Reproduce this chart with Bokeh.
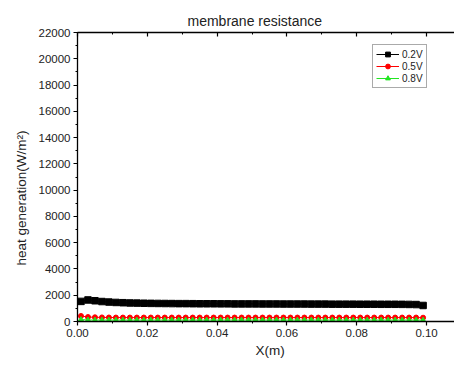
from bokeh.plotting import figure
from bokeh.models import (Legend, LegendItem, LinearAxis, SingleIntervalTicker,
                          NumeralTickFormatter, Range1d, Title)
from bokeh.embed import file_html
from bokeh.resources import INLINE

title_text = "membrane resistance"
x_label = "X(m)"
y_label = "heat generation(W/m\u00b2)"
series_names = ["0.2V", "0.5V", "0.8V"]

x_pos = [0.001, 0.003, 0.005, 0.007, 0.009, 0.011, 0.013, 0.015, 0.017, 0.019,
         0.021, 0.023, 0.025, 0.027, 0.029, 0.031, 0.033, 0.035, 0.037, 0.039,
         0.041, 0.043, 0.045, 0.047, 0.049, 0.051, 0.053, 0.055, 0.057, 0.059,
         0.061, 0.063, 0.065, 0.067, 0.069, 0.071, 0.073, 0.075, 0.077, 0.079,
         0.081, 0.083, 0.085, 0.087, 0.089, 0.091, 0.093, 0.095, 0.097, 0.099]

v02 = [1530, 1640, 1580, 1520, 1480, 1450, 1430, 1410, 1400, 1390,
       1380, 1375, 1370, 1365, 1360, 1360, 1355, 1350, 1350, 1350,
       1345, 1345, 1340, 1340, 1340, 1340, 1335, 1335, 1335, 1330,
       1330, 1330, 1330, 1325, 1325, 1325, 1320, 1320, 1320, 1320,
       1315, 1315, 1315, 1310, 1310, 1310, 1305, 1300, 1290, 1220]

v05 = [420, 340, 320, 310, 305, 300, 300, 300, 300, 300,
       300, 300, 300, 300, 300, 300, 300, 300, 300, 300,
       300, 300, 300, 300, 300, 300, 300, 300, 300, 300,
       300, 300, 300, 300, 300, 300, 300, 300, 300, 300,
       300, 300, 300, 300, 300, 300, 300, 300, 300, 290]

v08 = [150, 120, 110, 110, 110, 110, 110, 110, 110, 110,
       110, 110, 110, 110, 110, 110, 110, 110, 110, 110,
       110, 110, 110, 110, 110, 110, 110, 110, 110, 110,
       110, 110, 110, 110, 110, 110, 110, 110, 110, 110,
       110, 110, 110, 110, 110, 110, 110, 110, 110, 105]

FONT = "Liberation Sans"
TXT = "#222222"
GREEN = "#22e622"

p = figure(width=454, height=367, output_backend="svg", toolbar_location=None,
           x_range=Range1d(0, 0.108), y_range=Range1d(0, 22000),
           x_axis_location=None, y_axis_location=None,
           min_border_left=77, min_border_right=0, min_border_top=32, min_border_bottom=46)
p.outline_line_color = None
p.xgrid.visible = False
p.ygrid.visible = False
p.background_fill_color = "white"
p.border_fill_color = "white"

# axes
xb = LinearAxis(ticker=SingleIntervalTicker(interval=0.02, num_minor_ticks=2),
                formatter=NumeralTickFormatter(format="0.00"))
yl = LinearAxis(ticker=SingleIntervalTicker(interval=2000, num_minor_ticks=2))
xt = LinearAxis(ticker=SingleIntervalTicker(interval=0.02, num_minor_ticks=2),
                formatter=NumeralTickFormatter(format="0.00"))
for ax in (xb, yl, xt):
    ax.axis_line_color = "black"
    ax.axis_line_width = 1.3
    ax.major_tick_line_color = "black"
    ax.minor_tick_line_color = "black"
    ax.major_tick_line_width = 1.2
    ax.major_label_text_font = FONT
    ax.major_label_text_font_size = "11.5px"
    ax.major_label_text_color = TXT
xb.major_tick_out = 4
xb.major_tick_in = 0
xb.minor_tick_out = 2
xb.minor_tick_in = 0
xb.major_label_standoff = 3
yl.major_tick_out = 4
yl.major_tick_in = 0
yl.minor_tick_out = 2
yl.minor_tick_in = 0
yl.major_label_standoff = 3
xt.major_tick_out = 0
xt.major_tick_in = 4
xt.minor_tick_in = 2
xt.minor_tick_out = 0
xt.major_label_standoff = 0
xt.major_label_text_font_size = "4px"
xt.major_label_text_alpha = 0
p.add_layout(xb, "below")
p.add_layout(yl, "left")
p.add_layout(xt, "above")

# series
l1 = p.line(x_pos, v02, line_color="black", line_width=1)
s1 = p.scatter(x_pos, v02, marker="square", size=6.5, fill_color="black", line_color="black")
l2 = p.line(x_pos, v05, line_color="#ff0000", line_width=1)
s2 = p.scatter(x_pos, v05, marker="circle", size=5, fill_color="#ff0000", line_color="#ff0000")
l3 = p.line(x_pos, v08, line_color=GREEN, line_width=1)
s3 = p.scatter(x_pos, v08, marker="triangle", size=5, fill_color=GREEN, line_color=GREEN)

legend = Legend(items=[LegendItem(label=series_names[0], renderers=[l1, s1]),
                       LegendItem(label=series_names[1], renderers=[l2, s2]),
                       LegendItem(label=series_names[2], renderers=[l3, s3])],
                location=(295, 233), border_line_color="#555555", border_line_width=1,
                padding=3, spacing=0, margin=0, label_standoff=3,
                glyph_width=23, glyph_height=12, label_height=12,
                label_text_font=FONT, label_text_font_size="10px", label_text_color=TXT,
                background_fill_color="white", background_fill_alpha=1)
p.add_layout(legend, "center")

# texts
p.add_layout(Title(text=title_text, align="left", offset=110, standoff=5,
                   vertical_align="middle", text_font=FONT,
                   text_font_size="14px", text_font_style="normal", text_color=TXT), "above")
p.add_layout(Title(text=x_label, align="left", offset=178, standoff=3, text_font=FONT,
                   text_font_size="13.5px", text_font_style="normal", text_color=TXT), "below")
p.add_layout(Title(text=y_label, align="left", offset=56, standoff=13, text_font=FONT,
                   text_font_size="13.5px", text_font_style="normal", text_color=TXT), "left")

open("out.html", "w").write(file_html(p, INLINE))
